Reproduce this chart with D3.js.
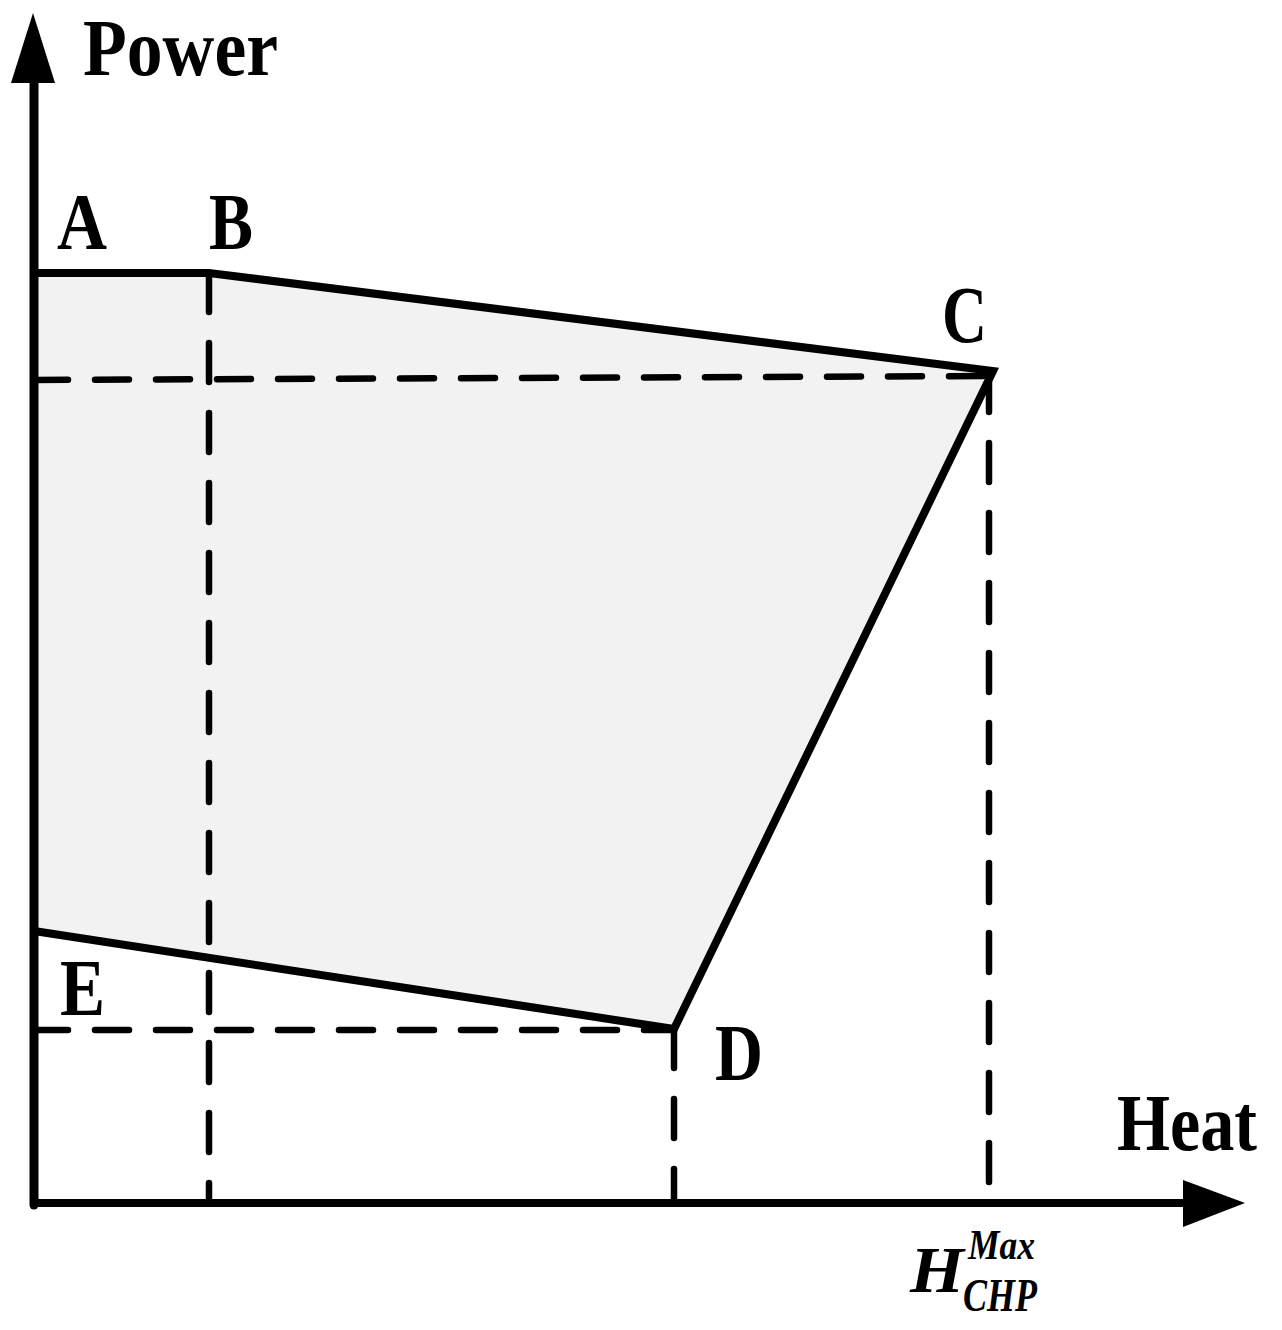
<!DOCTYPE html>
<html>
<head>
<meta charset="utf-8">
<script src="https://cdn.jsdelivr.net/npm/d3@7"></script>
<style>
  html, body { margin: 0; padding: 0; background: #fff; }
  svg { display: block; }
</style>
</head>
<body>
<div id="chart"></div>
<script>
// ---- data (heat / power in arbitrary units) ----
const vertexLabels = ["A", "B", "C", "D", "E"];
const vertexHeat   = [0, 17.5, 95.9, 64, 0];
const vertexPower  = [93.0, 93.0, 83.2, 17.4, 27.2];

// dashed guide lines: [heat1, power1, heat2, power2]
const guideHeat1  = [0, 17.5, 95.5, 0, 64];
const guidePower1 = [82.3, 93.0, 83.0, 17.3, 17.4];
const guideHeat2  = [95.7, 17.5, 95.5, 64, 64];
const guidePower2 = [82.7, 0, 0, 17.3, 0];

const axisLabels = ["Power", "Heat"];
const hmaxMain = "H", hmaxSup = "Max", hmaxSub = "CHP";

// ---- layout ----
const W = 1282, H = 1330;
const x = d3.scaleLinear().domain([0, 121]).range([34, 1244]);
const y = d3.scaleLinear().domain([0, 120]).range([1203, 3]);

const svg = d3.select("#chart").append("svg")
  .attr("width", W).attr("height", H)
  .attr("viewBox", `0 0 ${W} ${H}`);

const pts = vertexHeat.map((h, i) => [x(h), y(vertexPower[i])]);

// fill
svg.append("path")
  .attr("d", d3.line()(pts) + "Z")
  .attr("fill", "#f2f2f2")
  .attr("stroke", "none");

// dashed guides
const guides = guideHeat1.map((h, i) => ({
  x1: x(h), y1: y(guidePower1[i]), x2: x(guideHeat2[i]), y2: y(guidePower2[i])
}));
svg.append("g").selectAll("line").data(guides).join("line")
  .attr("x1", d => d.x1).attr("y1", d => d.y1)
  .attr("x2", d => d.x2).attr("y2", d => d.y2)
  .attr("stroke", "#000")
  .attr("stroke-width", 6.5)
  .attr("stroke-linecap", "round")
  .attr("stroke-dasharray", d => (d.x1 === d.x2 ? "39,31" : "34,27"));

// outline
svg.append("path")
  .attr("d", d3.line()(pts))
  .attr("fill", "none")
  .attr("stroke", "#000")
  .attr("stroke-width", 8)
  .attr("stroke-linejoin", "miter");

// axes
const x0 = x(0), yb = y(0);
svg.append("line")
  .attr("x1", x0).attr("y1", yb + 2).attr("x2", x0).attr("y2", 80)
  .attr("stroke", "#000").attr("stroke-width", 9).attr("stroke-linecap", "round");
svg.append("line")
  .attr("x1", x0).attr("y1", yb).attr("x2", 1185).attr("y2", yb)
  .attr("stroke", "#000").attr("stroke-width", 8).attr("stroke-linecap", "round");
// arrowheads
svg.append("path")
  .attr("d", `M${x0 - 1},13 L${x0 + 21},83 L${x0 - 23},83 Z`)
  .attr("fill", "#000");
svg.append("path")
  .attr("d", `M1245,${yb} L1183,${yb - 23} L1183,${yb + 24} Z`)
  .attr("fill", "#000");

// text helper
function label(txt, px, py, size, len, italic) {
  return svg.append("text")
    .attr("x", px).attr("y", py)
    .attr("font-family", "'Liberation Serif', 'Times New Roman', serif")
    .attr("font-weight", "bold")
    .attr("font-style", italic ? "italic" : "normal")
    .attr("font-size", size)
    .attr("textLength", len)
    .attr("lengthAdjust", "spacingAndGlyphs")
    .attr("fill", "#000")
    .text(txt);
}

label(axisLabels[0], 83, 75, 80, 195);
label(axisLabels[1], 1117, 1150, 80, 140);

const vLabelPos = [[57, 249, 50], [209, 249, 44], [942, 342, 45], [715, 1080, 48], [60, 1015, 45]];
vertexLabels.forEach((l, i) => {
  const p = vLabelPos[i];
  label(l, p[0], p[1], 80, p[2]);
});

label(hmaxMain, 910, 1292, 66, 54, true);
label(hmaxSup, 968, 1259, 43, 67, true);
label(hmaxSub, 963, 1311, 46, 74, true);
</script>
</body>
</html>
